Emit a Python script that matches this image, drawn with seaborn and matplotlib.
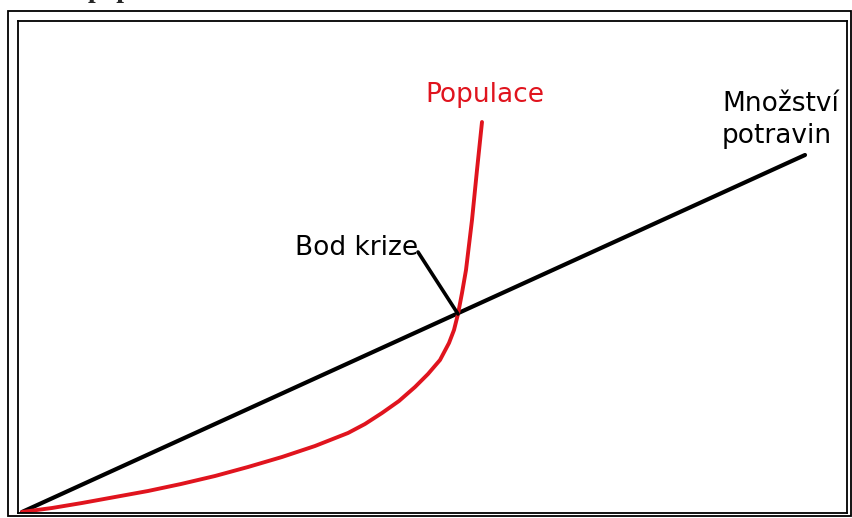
import matplotlib
matplotlib.use("Agg")
import matplotlib.pyplot as plt
import seaborn as sns
import pandas as pd
from matplotlib.patches import Rectangle

# Data (in arbitrary units)
food_x = [4, 787]
food_y = [1, 358]
pop_x = [4, 34, 64, 97, 130, 163, 197, 230, 264, 297, 330, 347, 364, 381, 397,
         410, 422, 431, 436, 440, 444, 448, 451, 454, 456.5, 459, 461.5, 464]
pop_y = [1, 5, 10, 16, 22, 29, 37, 46, 56, 67, 80, 89, 100, 112, 126,
         139, 153, 170, 183, 199, 220, 243, 268, 293, 318, 343, 367, 391]
crisis_x = 440
crisis_y = 199
label_food = "Množství\npotravin"
label_pop = "Populace"
label_crisis = "Bod krize"

W, H = 853, 518
sns.set_style("white")
plt.rcParams['font.family'] = ['DejaVu Sans']
fig = plt.figure(figsize=(W / 100, H / 100), dpi=100)
ax = fig.add_axes([18 / W, 5 / H, 829 / W, 492 / H])

food = pd.DataFrame({"x": food_x, "y": food_y})
pop = pd.DataFrame({"x": pop_x, "y": pop_y})
sns.lineplot(data=food, x="x", y="y", ax=ax, color="black", linewidth=3.0,
             sort=False, estimator=None, solid_capstyle="round")
sns.lineplot(data=pop, x="x", y="y", ax=ax, color="#e0141e", linewidth=2.8,
             sort=False, estimator=None, solid_capstyle="round",
             solid_joinstyle="round")

ax.set_xlim(0, 829)
ax.set_ylim(0, 492)
ax.set_xticks([])
ax.set_yticks([])
ax.set_xlabel("")
ax.set_ylabel("")
for s in ax.spines.values():
    s.set_color("black")
    s.set_linewidth(1.3)
    s.set_visible(True)

# crisis pointer
ax.plot([400, crisis_x], [261, crisis_y], color="black", lw=2.6,
        solid_capstyle="round")
ax.text(400, 265, label_crisis, ha="right", va="center", fontsize=19, color="black")
ax.text(407, 418, label_pop, color="#e0141e", fontsize=19, ha="left", va="center")
ax.text(704, 393, label_food, color="black", fontsize=19, ha="left", va="center",
        linespacing=1.3)

# outer frame
fig.patches.append(Rectangle((8 / W, 2 / H), 843 / W, 505 / H, transform=fig.transFigure,
                             fill=False, edgecolor="black", linewidth=1.3))
# cut-off heading at the top
fig.text(88 / W, 1 + 3 / H, "population", family="Liberation Serif",
         fontsize=20, fontweight="bold", ha="left", va="baseline")

fig.savefig("out.png", dpi=100)
